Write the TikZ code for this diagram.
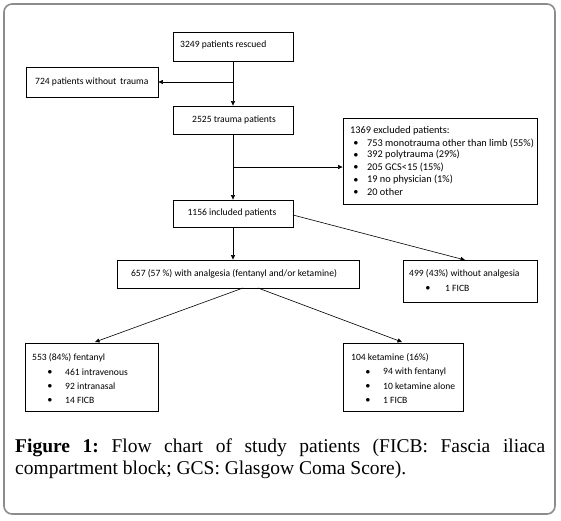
\documentclass[tikz,border=0pt]{standalone}
\usepackage{fontspec}
\setmainfont{Liberation Serif}
\newfontfamily\boxfont{Carlito}
\usetikzlibrary{arrows.meta}
\frenchspacing
\begin{document}
\begin{tikzpicture}[x=1pt,y=-1pt,
  box/.style={draw=black,line width=0.8pt,inner sep=0pt,rectangle},
  txt/.style={anchor=west,inner sep=0pt,font=\boxfont\fontsize{9.6}{11}\selectfont},
  txtb/.style={anchor=west,inner sep=0pt,font=\boxfont\fontsize{10.3}{12}\selectfont},
  bul/.style={anchor=center,inner sep=0pt,font=\fontsize{9}{10}\selectfont},
  arr/.style={line width=0.6pt,-{Triangle[length=4.5pt,width=4pt]}}]
\useasboundingbox (0,0) rectangle (561,520);
\draw[rounded corners=8pt,draw=black!45,line width=1.6pt] (4,4) rectangle (555,514) ;
% boxes
\node[box,minimum width=120pt,minimum height=29pt] (a) at (233,46.5) {};
\node[box,minimum width=132pt,minimum height=30pt] (n724) at (92,82) {};
\node[box,minimum width=120pt,minimum height=28pt] (b) at (233,120) {};
\node[box,minimum width=194pt,minimum height=86pt] (ex) at (440,161) {};
\node[box,minimum width=120pt,minimum height=27pt] (d) at (233,213.5) {};
\node[box,minimum width=242pt,minimum height=28pt] (e) at (238,274) {};
\node[box,minimum width=134pt,minimum height=42pt] (f) at (470,281) {};
\node[box,minimum width=133pt,minimum height=68pt] (g) at (91.5,377) {};
\node[box,minimum width=120pt,minimum height=68pt] (h) at (403,377) {};
% texts
\node[txt] (ta) at (180,44.5) {3249 patients rescued};
\node[txt] (t724) at (35,81.5) {724 patients without\, trauma};
\node[txt,anchor=center] (tb) at (234,119.5) {2525 trauma patients};
\node[txtb] (tex0) at (350,131) {1369 excluded patients:};
\node[bul] (bx1) at (356,143) {$\bullet$};
\node[bul] (bx2) at (356,155) {$\bullet$};
\node[bul] (bx3) at (356,167.5) {$\bullet$};
\node[bul] (bx4) at (356,180) {$\bullet$};
\node[bul] (bx5) at (356,192) {$\bullet$};
\node[txtb] (tex1) at (367,143) {753 monotrauma other than limb (55\%)};
\node[txtb] (tex2) at (367,155) {392 polytrauma (29\%)};
\node[txtb] (tex3) at (367,167.5) {205 GCS<15 (15\%)};
\node[txtb] (tex4) at (367,180) {19 no physician (1\%)};
\node[txtb] (tex5) at (367,192) {20 other};
\node[txt,anchor=center] (td) at (232,213) {1156 included patients};
\node[txt,anchor=center] (te) at (234,273.5) {657 (57 \%) with analgesia (fentanyl and/or ketamine)};
\node[txt] (tf0) at (409,274) {499 (43\%) without analgesia};
\node[bul] (bf1) at (428,288) {$\bullet$};
\node[txt] (tf1) at (445,288) {1 FICB};
\node[txt] (tg0) at (32,358) {553 (84\%) fentanyl};
\node[bul] (bg1) at (50,372) {$\bullet$};
\node[bul] (bg2) at (50,386) {$\bullet$};
\node[bul] (bg3) at (50,400) {$\bullet$};
\node[txt] (tg1) at (65,372) {461 intravenous};
\node[txt] (tg2) at (65,386) {92 intranasal};
\node[txt] (tg3) at (65,400) {14 FICB};
\node[txt] (th0) at (351,358) {104 ketamine (16\%)};
\node[bul] (bh1) at (368,372) {$\bullet$};
\node[bul] (bh2) at (368,386) {$\bullet$};
\node[bul] (bh3) at (368,400) {$\bullet$};
\node[txt] (th1) at (383,372) {94 with fentanyl};
\node[txt] (th2) at (383,386) {10 ketamine alone};
\node[txt] (th3) at (383,400) {1 FICB};
% connectors
\draw[arr] (a.south) -- (b.north);
\coordinate (j1) at (233,82);
\draw[arr] (j1) -- (n724.east);
\draw[arr] (b.south) -- (d.north);
\coordinate (j2) at (233,167);
\draw[arr] (j2) -- (ex.west |- j2);
\coordinate (d1) at (293,215);
\coordinate (fin) at (465,260);
\draw[arr] (d1) -- (fin);
\draw[arr] (d.south) -- (d.south |- e.north);
\coordinate (e1) at (243,288);
\coordinate (e2) at (258,288);
\coordinate (g1) at (95,342);
\coordinate (h1) at (402,342);
\draw[arr] (e1) -- (g1);
\draw[arr] (e2) -- (h1);
% caption
\node[anchor=base west,inner sep=0pt,align=left,font=\fontsize{19.5}{22}\selectfont] (cap) at (15,474)
 {\makebox[530pt][s]{\textbf{Figure 1:} Flow chart of study patients (FICB: Fascia iliaca}\\
  compartment block; GCS: Glasgow Coma Score).};
\end{tikzpicture}
\end{document}
